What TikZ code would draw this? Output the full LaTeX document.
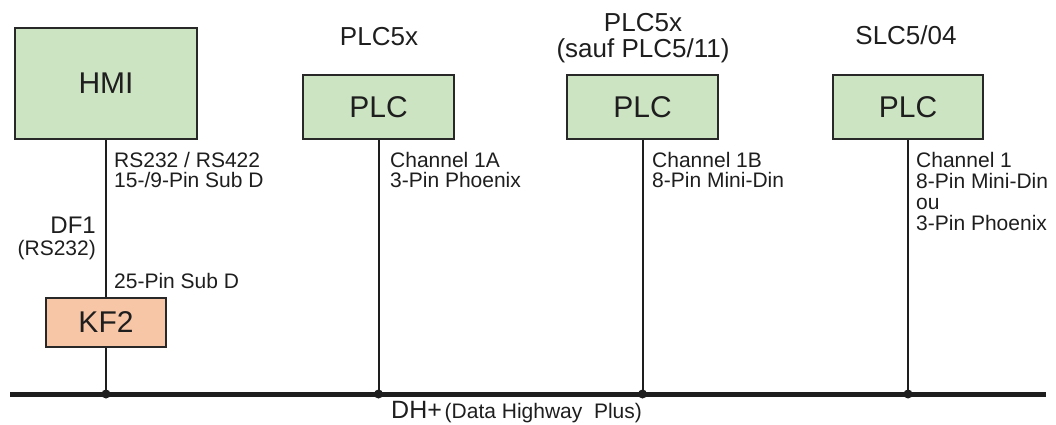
\documentclass[tikz,border=0pt]{standalone}
\usepackage{fontspec}
\setmainfont{Liberation Sans}
\definecolor{boxgreen}{RGB}{205,228,195}
\definecolor{boxorange}{RGB}{246,198,166}
\definecolor{edge}{RGB}{40,40,40}
\definecolor{ink}{RGB}{30,30,30}
\begin{document}
\begin{tikzpicture}[x=1pt,y=-1pt,
  gbox/.style={draw=edge,line width=2pt,fill=boxgreen,inner sep=0pt,
    font=\fontsize{30}{34}\selectfont,text=ink},
  obox/.style={gbox,fill=boxorange},
  conn/.style={draw=ink,line width=2pt},
  bus/.style={draw=ink,line width=5pt},
  dot/.style={circle,fill=ink,inner sep=0pt,minimum size=9pt},
  small/.style={font=\fontsize{21}{24}\selectfont,text=ink,inner sep=0pt,anchor=base west},
  title/.style={font=\fontsize{26}{30}\selectfont,text=ink,inner sep=0pt,anchor=base},
]
\useasboundingbox (0,0) rectangle (1056,425);
% boxes
\node[gbox,minimum width=182pt,minimum height=111pt] (hmi) at (106,83.5) {HMI};
\node[obox,minimum width=120pt,minimum height=49pt] (kf2) at (106,322.5) {KF2};
\node[gbox,minimum width=151pt,minimum height=64pt] (plc1) at (378.5,107) {PLC};
\node[gbox,minimum width=151pt,minimum height=64pt] (plc2) at (642.5,107) {PLC};
\node[gbox,minimum width=150pt,minimum height=64pt] (plc3) at (908,107) {PLC};
% bus
\coordinate (bl) at (10,394);
\coordinate (br) at (1046,394);
\coordinate (b1) at (106,394);
\coordinate (b2) at (378.5,394);
\coordinate (b3) at (642.5,394);
\coordinate (b4) at (908,394);
\draw[bus] (bl) -- (br);
% connectors
\draw[conn] (hmi.south) -- (kf2.north);
\draw[conn] (kf2.south) -- (b1);
\draw[conn] (plc1.south) -- (b2);
\draw[conn] (plc2.south) -- (b3);
\draw[conn] (plc3.south) -- (b4);
\node[dot] (d1) at (b1) {};
\node[dot] (d2) at (b2) {};
\node[dot] (d3) at (b3) {};
\node[dot] (d4) at (b4) {};
% titles
\node[title] (t1) at (379,46) {PLC5x};
\node[title] (t2a) at (643,32) {PLC5x};
\node[title] (t2b) at (643,58) {(sauf PLC5/11)};
\node[title] (t3) at (906,45) {SLC5/04};
% HMI labels
\node[small] (h1) at (114,167) {RS232 / RS422};
\node[small] (h2) at (114,187) {15-/9-Pin Sub D};
\node[font=\fontsize{24}{28}\selectfont,text=ink,inner sep=0pt,anchor=base east] (df) at (96,233) {DF1};
\node[small,anchor=base east] (rs) at (96,255) {(RS232)};
\node[small] (h3) at (114,288) {25-Pin Sub D};
% PLC labels
\node[small] (c1a) at (390,167) {Channel 1A};
\node[small] (c1b) at (390,187) {3-Pin Phoenix};
\node[small] (c2a) at (652,167) {Channel 1B};
\node[small] (c2b) at (652,187) {8-Pin Mini-Din};
\node[small] (c3a) at (916,167) {Channel 1};
\node[small] (c3b) at (916,188) {8-Pin Mini-Din};
\node[small] (c3c) at (916,209) {ou};
\node[small] (c3d) at (916,230) {3-Pin Phoenix};
% bus label
\node[inner sep=0pt,anchor=base west,text=ink] (dh) at (391,418)
  {{\fontsize{25}{28}\selectfont DH+} {\fontsize{21}{24}\selectfont (Data Highway\ \ Plus)}};
\end{tikzpicture}
\end{document}
